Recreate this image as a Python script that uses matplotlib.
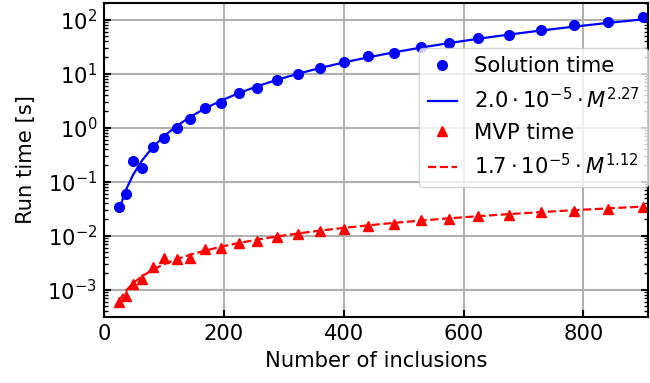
import numpy as np
import matplotlib
matplotlib.use("Agg")
import matplotlib.pyplot as plt

# number of inclusions (M)
inclusions = [25, 36, 49, 64, 81, 100, 121, 144, 169, 196, 225, 256, 289, 324,
              361, 400, 441, 484, 529, 576, 625, 676, 729, 784, 841, 900]

# measured run times [s]
solution_time = [0.034, 0.059, 0.24, 0.18, 0.44, 0.65, 0.99, 1.45, 2.3, 2.9,
                 4.4, 5.5, 7.6, 9.7, 12.7, 16.2, 20.9, 24.5, 31.5, 37.8,
                 46.2, 53.2, 63.8, 81.3, 92.3, 110.7]
mvp_time = [5.8e-4, 7.7e-4, 1.27e-3, 1.6e-3, 2.6e-3, 3.9e-3, 3.7e-3, 3.9e-3,
            5.6e-3, 5.8e-3, 7.4e-3, 8.0e-3, 9.6e-3, 1.06e-2, 1.22e-2, 1.35e-2,
            1.50e-2, 1.66e-2, 1.94e-2, 2.00e-2, 2.30e-2, 2.47e-2, 2.77e-2,
            2.84e-2, 3.18e-2, 3.42e-2]

# power law fits a * M^b (from legend)
sol_coef, sol_exp = 2.0e-5, 2.27
mvp_coef, mvp_exp = 1.7e-5, 1.12

plt.rcParams['font.size'] = 15.2
plt.rcParams['axes.linewidth'] = 1.5

fig = plt.figure(figsize=(6.5, 3.83), dpi=100)
ax = fig.add_axes([0.16, 0.173, 0.837, 0.819])

M = np.array(inclusions, dtype=float)
ax.plot(M, solution_time, 'o', color='blue', markersize=7, label='Solution time')
ax.plot(M, sol_coef * M**sol_exp, '-', color='blue', lw=1.6,
        label=r'$2.0\cdot10^{-5}\cdot M^{2.27}$')
ax.plot(M, mvp_time, '^', color='red', markersize=7, label='MVP time')
ax.plot(M, mvp_coef * M**mvp_exp, '--', color='red', lw=1.6,
        label=r'$1.7\cdot10^{-5}\cdot M^{1.12}$')

ax.set_yscale('log')
ax.set_xlim(0, 908)
ax.set_xlabel('Number of inclusions', labelpad=5)
ax.set_ylabel('Run time [s]', labelpad=8)

ax.grid(True, which='major', color='#b0b0b0', lw=1.5)
ax.tick_params(which='both', direction='in', right=True)
ax.tick_params(which='major', length=5, width=1.5, pad=5)
ax.tick_params(which='minor', length=3, width=1)

ax.legend(loc='upper right', bbox_to_anchor=(1.0, 0.857), borderaxespad=0,
          handlelength=1.4)

fig.savefig('out.png', dpi=100)
